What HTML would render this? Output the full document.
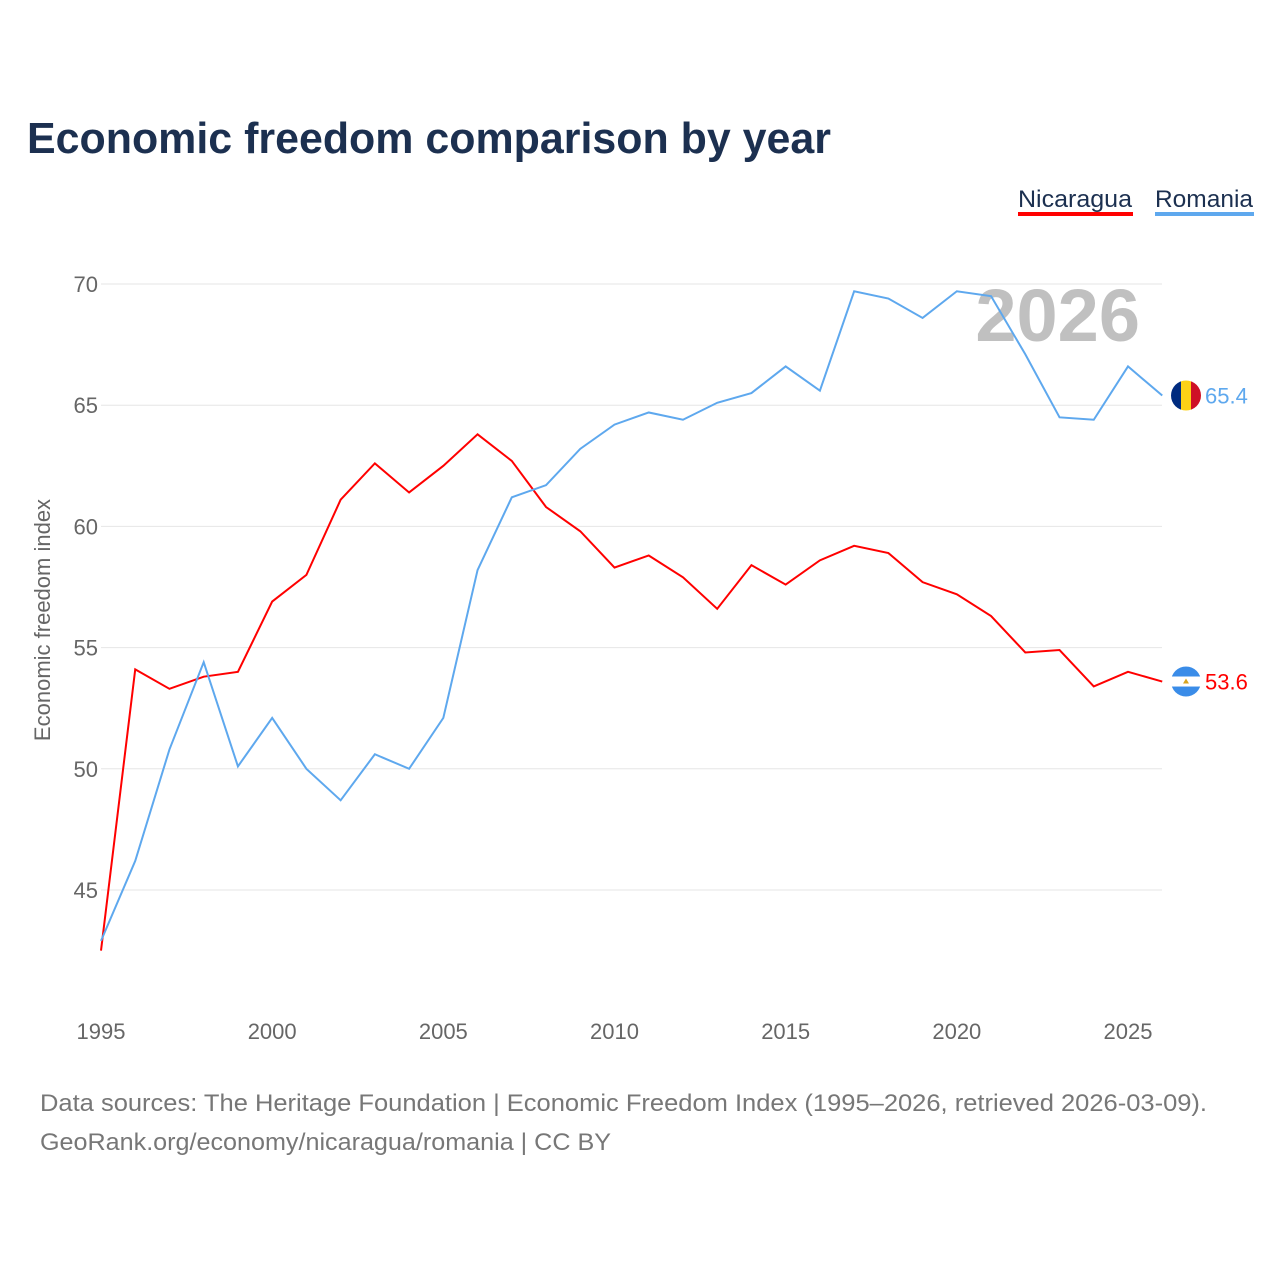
<!DOCTYPE html>
<html><head><meta charset="utf-8">
<style>
body{margin:0;background:#fff;width:1280px;height:1280px;overflow:hidden;font-family:"Liberation Sans",sans-serif;}
svg text{font-family:"Liberation Sans",sans-serif;}
</style></head>
<body>
<svg id="chart" width="1280" height="1280" xmlns="http://www.w3.org/2000/svg">
<text x="27" y="153" font-size="44" font-weight="bold" fill="#1c3050" textLength="804" lengthAdjust="spacingAndGlyphs">Economic freedom comparison by year</text>
<g>
<text x="1018" y="207" font-size="24" fill="#1c3050" textLength="114" lengthAdjust="spacingAndGlyphs">Nicaragua</text>
<rect x="1018" y="212" width="115" height="4" fill="#ff0000"/>
<text x="1155" y="207" font-size="24" fill="#1c3050" textLength="98" lengthAdjust="spacingAndGlyphs">Romania</text>
<rect x="1155" y="212" width="99" height="4" fill="#5ea8ee"/>
</g>
<text x="1140" y="341" font-size="74" font-weight="bold" fill="#c0c0c0" text-anchor="end">2026</text>
<text transform="translate(50,620) rotate(-90)" font-size="22" fill="#666" text-anchor="middle">Economic freedom index</text>
<g id="grid"></g><g id="series"></g>
<text x="40" y="1111" font-size="24" fill="#777" textLength="1167" lengthAdjust="spacingAndGlyphs">Data sources: The Heritage Foundation | Economic Freedom Index (1995–2026, retrieved 2026-03-09).</text>
<text x="40" y="1150" font-size="24" fill="#777" textLength="571" lengthAdjust="spacingAndGlyphs">GeoRank.org/economy/nicaragua/romania | CC BY</text>
</svg>
<script>
const years=[1995,1996,1997,1998,1999,2000,2001,2002,2003,2004,2005,2006,2007,2008,2009,2010,2011,2012,2013,2014,2015,2016,2017,2018,2019,2020,2021,2022,2023,2024,2025,2026];
const nicaragua=[42.5,54.1,53.3,53.8,54.0,56.9,58.0,61.1,62.6,61.4,62.5,63.8,62.7,60.8,59.8,58.3,58.8,57.9,56.6,58.4,57.6,58.6,59.2,58.9,57.7,57.2,56.3,54.8,54.9,53.4,54.0,53.6];
const romania=[42.9,46.2,50.8,54.4,50.1,52.1,50.0,48.7,50.6,50.0,52.1,58.2,61.2,61.7,63.2,64.2,64.7,64.4,65.1,65.5,66.6,65.6,69.7,69.4,68.6,69.7,69.5,67.1,64.5,64.4,66.6,65.4];
const yTicks=[45,50,55,60,65,70];
const xTicks=[1995,2000,2005,2010,2015,2020,2025];
const NS="http://www.w3.org/2000/svg";
const x=v=>101+(v-1995)*(1128-101)/30;
const y=v=>284+(70-v)*(890-284)/25;
const grid=document.getElementById('grid'),ser=document.getElementById('series');
function mk(tag,attrs,parent){const e=document.createElementNS(NS,tag);for(const k in attrs)e.setAttribute(k,attrs[k]);parent.appendChild(e);return e;}
yTicks.forEach(t=>{
 const l=mk('line',{x1:101,x2:1162,y1:y(t),y2:y(t),stroke:'#e6e6e6','stroke-width':1},grid);
 
 
 const tx=mk('text',{x:98,y:y(t)+8,'font-size':22,fill:'#666','text-anchor':'end'},grid);tx.textContent=t;
 
 
});
xTicks.forEach(t=>{
 const tx=mk('text',{x:x(t),y:1039,'font-size':22,fill:'#666','text-anchor':'middle'},grid);tx.textContent=t;
 
 
});
function line(vals,color,name,flag){
 const p=mk('polyline',{points:vals.map((v,i)=>x(years[i])+','+y(v)).join(' '),fill:'none',stroke:color,'stroke-width':2},ser);
 
 
 const last=vals[vals.length-1],ly=y(last);
 const g=mk('g',{},ser);
 
 
 const cx=1186;
 if(flag==='ro'){
  mk('clipPath',{id:'cro'},g);const cp=g.lastChild;mk('circle',{cx:cx,cy:ly,r:15},cp);
  mk('rect',{x:cx-15,y:ly-15,width:10,height:30,fill:'#002b7f','clip-path':'url(#cro)'},g);
  mk('rect',{x:cx-5,y:ly-15,width:10,height:30,fill:'#fcd116','clip-path':'url(#cro)'},g);
  mk('rect',{x:cx+5,y:ly-15,width:10,height:30,fill:'#ce1126','clip-path':'url(#cro)'},g);
 } else {
  mk('clipPath',{id:'cni'},g);const cp=g.lastChild;mk('circle',{cx:cx,cy:ly,r:15},cp);
  mk('rect',{x:cx-15,y:ly-15,width:30,height:10,fill:'#3a8ce8','clip-path':'url(#cni)'},g);
  mk('rect',{x:cx-15,y:ly-5,width:30,height:10,fill:'#fff','clip-path':'url(#cni)'},g);
  mk('rect',{x:cx-15,y:ly+5,width:30,height:10,fill:'#3a8ce8','clip-path':'url(#cni)'},g);
  mk('polygon',{points:(cx-3)+','+(ly+2)+' '+(cx+3)+','+(ly+2)+' '+cx+','+(ly-3),fill:'#d9a520'},g);
 }
 const t=mk('text',{x:1205,y:ly+8,'font-size':22,fill:color},ser);t.textContent=last.toFixed(1);
 
 
}
line(nicaragua,'#ff0000','nicaragua','ni');
line(romania,'#5ea8ee','romania','ro');
</script>
</body></html>
